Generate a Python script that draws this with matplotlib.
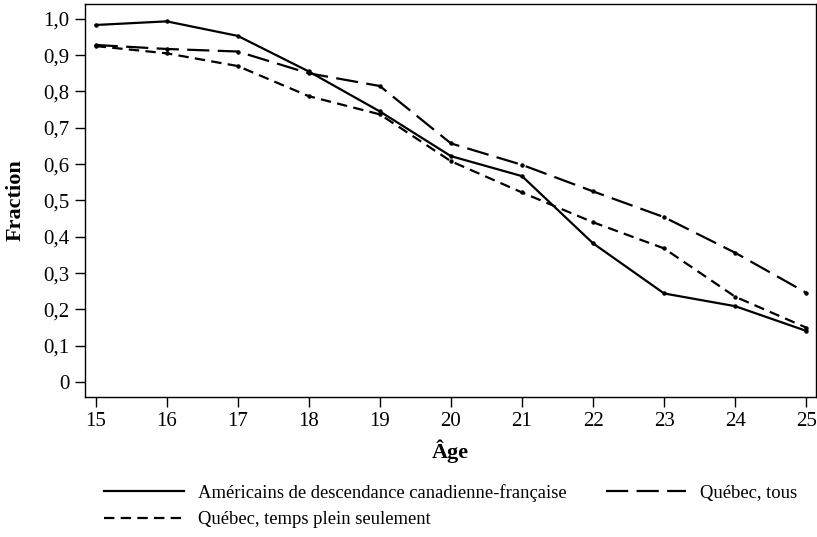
import matplotlib
matplotlib.use("Agg")
import matplotlib.pyplot as plt
from matplotlib.ticker import FuncFormatter

plt.rcParams['font.family'] = ['Liberation Serif', 'DejaVu Serif']
plt.rcParams['lines.scale_dashes'] = False

# Données
ages = [15, 16, 17, 18, 19, 20, 21, 22, 23, 24, 25]
americains = [0.983, 0.993, 0.953, 0.855, 0.745, 0.622, 0.567, 0.382, 0.244, 0.209, 0.141]
quebec_tous = [0.928, 0.917, 0.910, 0.850, 0.815, 0.657, 0.598, 0.525, 0.454, 0.356, 0.246]
quebec_plein = [0.925, 0.905, 0.870, 0.787, 0.737, 0.608, 0.522, 0.440, 0.368, 0.235, 0.150]

labels = ["Américains de descendance canadienne-française",
          "Québec, tous",
          "Québec, temps plein seulement"]

fig = plt.figure(figsize=(8.17, 5.37), dpi=100)
ax = fig.add_axes([0.104, 0.2607, 0.895, 0.732])

l1, = ax.plot(ages, americains, color='black', lw=1.6, marker='o', ms=2.2)
l2, = ax.plot(ages, quebec_tous, color='black', lw=1.6, marker='o', ms=2.2,
              linestyle=(0, (16, 6)))
l3, = ax.plot(ages, quebec_plein, color='black', lw=1.6, marker='o', ms=2.2,
              linestyle=(0, (7.5, 4.5)))

ax.set_xlim(14.85, 25.14)
ax.set_ylim(-0.041, 1.041)
ax.set_xticks(ages)
ax.set_yticks([i / 10 for i in range(11)])
ax.yaxis.set_major_formatter(FuncFormatter(
    lambda v, p: "0" if abs(v) < 1e-9 else f"{v:.1f}".replace(".", ",")))
ax.tick_params(direction='out', length=7, width=1, labelsize=15, pad=4)
for s in ax.spines.values():
    s.set_linewidth(1)

ax.set_xlabel("Âge", fontsize=16, fontweight='bold', labelpad=6)
ax.set_ylabel("Fraction", fontsize=16, fontweight='bold', labelpad=13)

# legend: ligne 1 = américains + tous, ligne 2 = temps plein
leg = fig.legend([l1, l3, l2], [labels[0], labels[2], labels[1]],
                 ncol=2, loc='upper left', bbox_to_anchor=(104 / 817, 1 - 484 / 537),
                 borderaxespad=0, borderpad=0,
                 frameon=False, fontsize=13.4, handlelength=4.3,
                 columnspacing=2.1, labelspacing=0.5, handletextpad=0.75)
for h in leg.legend_handles:
    h.set_marker('')

fig.savefig("out.png", dpi=100)
